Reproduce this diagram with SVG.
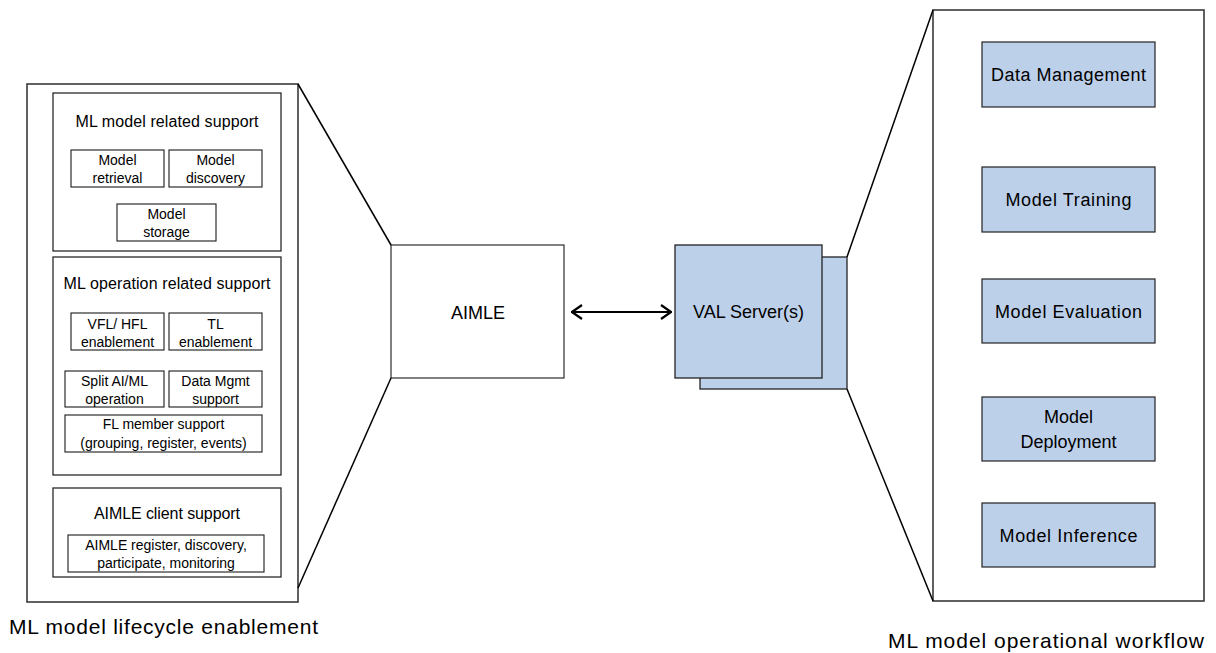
<svg xmlns="http://www.w3.org/2000/svg" width="1216" height="653" viewBox="0 0 1216 653">
<style>
text{font-family:"Liberation Sans",Arial,sans-serif;fill:#000;text-anchor:middle}
.panel{fill:#fff;stroke:#3a3a3a;stroke-width:1.6}
.grp{fill:#fff;stroke:#2a2a2a;stroke-width:1.3}
.sub{fill:#fff;stroke:#1a1a1a;stroke-width:1.1}
.blue{fill:#bdd0e9;stroke:#222;stroke-width:1.3}
.wf{fill:#bdd0e9;stroke:#222;stroke-width:1.2}
.t16{font-size:16px}
.t14{font-size:14px}
.t18{font-size:18px}
.big{font-size:21px;text-anchor:start}
.ln{stroke:#000;stroke-width:1.5;fill:none}
</style>
<defs>
<marker id="ah" viewBox="0 0 12 16" refX="11" refY="8" markerWidth="12" markerHeight="16" markerUnits="userSpaceOnUse" orient="auto-start-reverse">
<path d="M1,1 L11,8 L1,15" fill="none" stroke="#000" stroke-width="2.2"/>
</marker>
</defs>

<g id="lifecycle-panel">
<rect class="panel" x="27" y="84" width="271" height="518"/>
<text class="big" x="9" y="634" textLength="309" lengthAdjust="spacing">ML model lifecycle enablement</text>
</g>

<g id="ml-model-support">
<rect class="grp" x="53" y="93" width="228" height="158"/>
<text class="t16" x="167" y="127" textLength="183" lengthAdjust="spacing">ML model related support</text>
</g>
<g id="model-retrieval">
<rect class="sub" x="71" y="150" width="93" height="37"/>
<text class="t14" x="117.5" y="165">Model</text>
<text class="t14" x="117.5" y="183">retrieval</text>
</g>
<g id="model-discovery">
<rect class="sub" x="169" y="150" width="93" height="37"/>
<text class="t14" x="215.5" y="165">Model</text>
<text class="t14" x="215.5" y="183">discovery</text>
</g>
<g id="model-storage">
<rect class="sub" x="117" y="204" width="99" height="37"/>
<text class="t14" x="166.5" y="219">Model</text>
<text class="t14" x="166.5" y="237">storage</text>
</g>

<g id="ml-operation-support">
<rect class="grp" x="53" y="257" width="228" height="218"/>
<text class="t16" x="167" y="288.5" textLength="207" lengthAdjust="spacing">ML operation related support</text>
</g>
<g id="vfl-hfl">
<rect class="sub" x="71" y="313" width="93" height="37"/>
<text class="t14" x="117.5" y="329">VFL/ HFL</text>
<text class="t14" x="117.5" y="346.5">enablement</text>
</g>
<g id="tl">
<rect class="sub" x="169" y="313" width="93" height="37"/>
<text class="t14" x="215.5" y="329">TL</text>
<text class="t14" x="215.5" y="346.5">enablement</text>
</g>
<g id="split-aiml">
<rect class="sub" x="65" y="371" width="99" height="36"/>
<text class="t14" x="114.5" y="386">Split AI/ML</text>
<text class="t14" x="114.5" y="404">operation</text>
</g>
<g id="data-mgmt-support">
<rect class="sub" x="169" y="371" width="93" height="36"/>
<text class="t14" x="215.5" y="386">Data Mgmt</text>
<text class="t14" x="215.5" y="404">support</text>
</g>
<g id="fl-member">
<rect class="sub" x="65" y="415" width="197" height="37"/>
<text class="t14" x="163.5" y="429">FL member support</text>
<text class="t14" x="163.5" y="448">(grouping, register, events)</text>
</g>

<g id="aimle-client-support">
<rect class="grp" x="53" y="488" width="228" height="89"/>
<text class="t16" x="167" y="518.5" textLength="146" lengthAdjust="spacing">AIMLE client support</text>
</g>
<g id="aimle-register">
<rect class="sub" x="68" y="535" width="196" height="37"/>
<text class="t14" x="166" y="550">AIMLE register, discovery,</text>
<text class="t14" x="166" y="568">participate, monitoring</text>
</g>

<g id="aimle">
<rect class="sub" x="391" y="245" width="173" height="133"/>
<text class="t18" x="478" y="318.5">AIMLE</text>
</g>

<g id="val-server">
<rect class="blue" x="700" y="257" width="147" height="132"/>
<rect class="blue" x="675" y="245" width="147" height="133"/>
<text class="t18" x="748.5" y="318">VAL Server(s)</text>
</g>

<g id="workflow-panel">
<rect class="panel" x="933" y="10" width="271" height="591"/>
<text class="big" x="888" y="648" textLength="316" lengthAdjust="spacing">ML model operational workflow</text>
</g>
<g id="data-management">
<rect class="wf" x="982" y="42" width="173" height="65"/>
<text class="t18" x="1068.5" y="81" textLength="155" lengthAdjust="spacing">Data Management</text>
</g>
<g id="model-training">
<rect class="wf" x="982" y="167" width="173" height="65"/>
<text class="t18" x="1068.5" y="206" textLength="126" lengthAdjust="spacing">Model Training</text>
</g>
<g id="model-evaluation">
<rect class="wf" x="982" y="279" width="173" height="64"/>
<text class="t18" x="1068.5" y="318" textLength="147" lengthAdjust="spacing">Model Evaluation</text>
</g>
<g id="model-deployment">
<rect class="wf" x="982" y="397" width="173" height="64"/>
<text class="t18" x="1068.5" y="423">Model</text>
<text class="t18" x="1068.5" y="448">Deployment</text>
</g>
<g id="model-inference">
<rect class="wf" x="982" y="503" width="173" height="64"/>
<text class="t18" x="1068.5" y="542" textLength="138" lengthAdjust="spacing">Model Inference</text>
</g>

<g id="connectors">
<line class="ln" x1="298" y1="84" x2="391" y2="245"/>
<line class="ln" x1="391" y1="378" x2="298" y2="588"/>
<line class="ln" x1="847" y1="257" x2="933" y2="10"/>
<line class="ln" x1="847" y1="389" x2="933" y2="601"/>
<line x1="572" y1="312" x2="671" y2="312" stroke="#000" stroke-width="2.2" marker-start="url(#ah)" marker-end="url(#ah)"/>
</g>
</svg>
